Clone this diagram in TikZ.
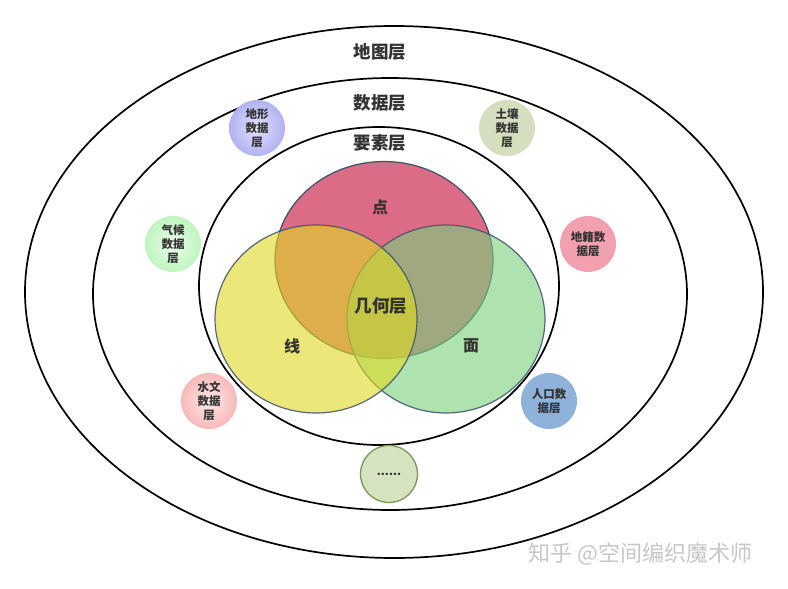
\documentclass[tikz,border=0pt]{standalone}
\usepackage{fontspec}
\setmainfont{Noto Sans CJK SC}
\usetikzlibrary{shapes.geometric}
\definecolor{venstroke}{HTML}{3C4F6E}
\definecolor{redc}{RGB}{220,108,133}
\definecolor{yelc}{RGB}{223,218,33}
\definecolor{grnc}{RGB}{120,208,123}
\tikzset{
  ring/.style={draw=black, line width=1.7pt, ellipse, fill=white},
  title/.style={font=\bfseries\fontsize{17.5}{19}\selectfont, text=black!80},
  venn/.style={draw=venstroke, line width=1.2pt, ellipse},
  vlabel/.style={font=\bfseries\fontsize{16}{18}\selectfont, text=black!80},
  layer/.style={circle, minimum size=56pt, inner sep=0pt, align=center,
     font=\bfseries\fontsize{11.5}{14}\selectfont, text=black!80},
}
\begin{document}
\begin{tikzpicture}[x=1pt,y=-1pt]
\useasboundingbox (0,0) rectangle (788,589);
\fill[white] (0,0) rectangle (788,589);
% rings
\node[ring, minimum width=738pt, minimum height=532pt] (map) at (394,292) {};
\node[ring, minimum width=594pt, minimum height=432pt] (data) at (390,294) {};
\node[ring, minimum width=360pt, minimum height=318pt] (feat) at (379,286) {};
% titles
\node[title] (tmap) at (380,52) {地图层};
\node[title] (tdata) at (380,103) {数据层};
\node[title] (tfeat) at (380,143) {要素层};
% venn
\node[venn, fill=redc, minimum width=218pt, minimum height=197pt] (pt) at (384,260) {};
\node[venn, fill=grnc, fill opacity=0.6, draw opacity=0.85, minimum width=198pt, minimum height=188pt] (ar) at (446,319) {};
\node[venn, fill=yelc, fill opacity=0.6, draw opacity=0.85, minimum width=202pt, minimum height=188pt] (ln) at (316,319) {};
\node[vlabel] (lpt) at (380,207) {点};
\node[vlabel] (lln) at (292,346) {线};
\node[vlabel] (lar) at (471,346) {面};
\node[vlabel, font=\bfseries\fontsize{17.5}{19}\selectfont] (lgeo) at (381,306) {几何层};
% data layers
\node[layer, inner color={rgb,255:red,225;green,225;blue,250}, outer color={rgb,255:red,178;green,178;blue,240}] (dx) at (257,128) {地形\\数据\\层};
\node[layer, fill={rgb,255:red,213;green,222;blue,190}] (tr) at (507,128) {土壤\\数据\\层};
\node[layer, inner color={rgb,255:red,235;green,252;blue,235}, outer color={rgb,255:red,190;green,245;blue,190}] (qh) at (173,244) {气候\\数据\\层};
\node[layer, fill={rgb,255:red,242;green,160;blue,175}] (dj) at (588,244) {地籍数\\据层};
\node[layer, inner color={rgb,255:red,252;green,232;blue,232}, outer color={rgb,255:red,248;green,185;blue,185}] (sw) at (209,401) {水文\\数据\\层};
\node[layer, fill={rgb,255:red,142;green,178;blue,218}] (rk) at (549,401) {人口数\\据层};
\node[layer, draw={rgb,255:red,125;green,150;blue,90}, line width=1.3pt, fill={rgb,255:red,213;green,227;blue,192}, minimum size=57pt] (more) at (389,474) {......};
% watermark
\node[text=black!22, font=\fontsize{22}{24}\selectfont, anchor=west] (wm) at (525,554) {知乎 @空间编织魔术师};
\end{tikzpicture}
\end{document}
